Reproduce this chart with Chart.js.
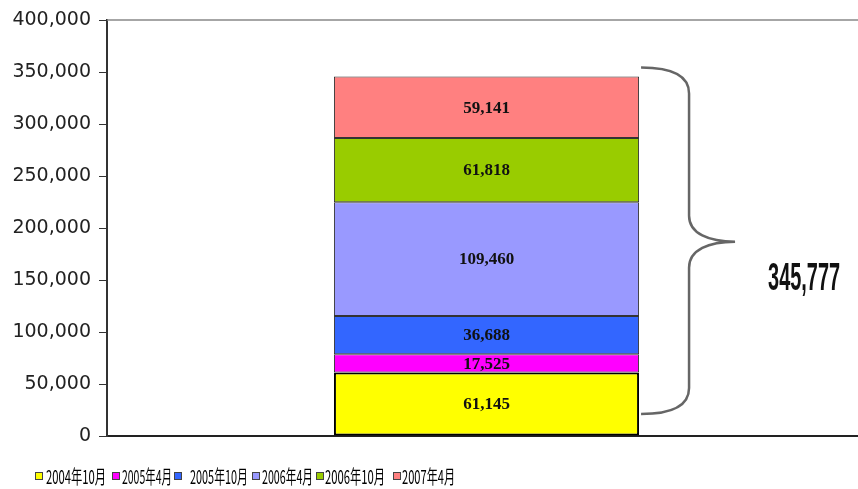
<!DOCTYPE html>
<html>
<head>
<meta charset="utf-8">
<script src="https://cdn.jsdelivr.net/npm/chart.js@4"></script>
<style>
  html, body { margin: 0; padding: 0; background: #fff; overflow: hidden; }
  #wrap { width: 866px; height: 489px; }
</style>
</head>
<body>
<div id="wrap"><canvas id="chart"></canvas></div>
<script>
// values
const categories = [''];
const seriesNames = ['2004年10月', '2005年4月', '2005年10月', '2006年4月', '2006年10月', '2007年4月'];
const seriesValues = [61145, 17525, 36688, 109460, 61818, 59141];
const seriesColors = ['#FFFF00', '#FF00FF', '#3366FF', '#9999FF', '#99CC00', '#FF8080'];
const yTicks = [0, 50000, 100000, 150000, 200000, 250000, 300000, 350000, 400000];

const fmt = v => v.toLocaleString('en-US');
const total = seriesValues.reduce((a, b) => a + b, 0);

const datasets = seriesNames.map((name, i) => ({
    label: name,
    data: [seriesValues[i]],
    backgroundColor: seriesColors[i],
    borderColor: i === 0 ? '#000' : '#333',
    borderWidth: i === 0 ? 2 : 1,
    borderSkipped: false,
    barPercentage: 0.402,
    categoryPercentage: 1
}));

// labels in segments, top frame line, brace + total, legend
const extras = {
    id: 'extras',
    afterDatasetsDraw(chart) {
        const ctx = chart.ctx;
        const area = chart.chartArea;
        const y = chart.scales.y;

        // top frame line
        ctx.save();
        ctx.strokeStyle = '#888';
        ctx.lineWidth = 1.5;
        ctx.beginPath();
        ctx.moveTo(area.left, area.top);
        ctx.lineTo(chart.width, area.top);
        ctx.stroke();
        ctx.restore();

        // value labels
        ctx.save();
        ctx.font = 'bold 17px "Liberation Serif", "Times New Roman", serif';
        ctx.fillStyle = '#111';
        ctx.textAlign = 'center';
        ctx.textBaseline = 'middle';
        chart.data.datasets.forEach((ds, i) => {
            const el = chart.getDatasetMeta(i).data[0];
            ctx.fillText(fmt(ds.data[0]), el.x, (el.y + el.base) / 2 + 1);
        });
        ctx.restore();

        // brace
        const bar = chart.getDatasetMeta(0).data[0];
        const x0 = bar.x + bar.width / 2 + 2;
        const top = y.getPixelForValue(total) - 9;
        const bot = y.getPixelForValue(0) - 22;
        const mid = (top + bot) / 2 + 1;
        const xs = x0 + 48, xt = x0 + 94;
        ctx.save();
        ctx.strokeStyle = '#666';
        ctx.lineWidth = 2.5;
        ctx.beginPath();
        ctx.moveTo(x0, top);
        ctx.bezierCurveTo(x0 + 30, top, xs, top + 8, xs, top + 26);
        ctx.lineTo(xs, mid - 26);
        ctx.bezierCurveTo(xs, mid - 8, xs + 20, mid, xt, mid);
        ctx.bezierCurveTo(xs + 20, mid, xs, mid + 8, xs, mid + 26);
        ctx.lineTo(xs, bot - 26);
        ctx.bezierCurveTo(xs, bot - 8, x0 + 30, bot, x0, bot);
        ctx.stroke();
        ctx.restore();

        // total
        ctx.save();
        ctx.font = 'bold 38px "Liberation Sans", Arial, sans-serif';
        ctx.fillStyle = '#111';
        ctx.textAlign = 'center';
        ctx.textBaseline = 'alphabetic';
        ctx.fillText(fmt(total), xt + 69, mid + 48, 72);
        ctx.restore();

        // legend
        const boxX = [35, 112, 174, 252, 316, 393];
        const textX = [46, 122, 190, 262, 325, 402];
        const textW = [60, 50, 58, 51, 60, 53];
        ctx.save();
        ctx.font = '19px "Noto Sans CJK SC", sans-serif';
        ctx.textBaseline = 'middle';
        ctx.textAlign = 'left';
        chart.data.datasets.forEach((ds, i) => {
            ctx.fillStyle = ds.backgroundColor;
            ctx.fillRect(boxX[i], 472, 7, 7);
            ctx.strokeStyle = '#444';
            ctx.lineWidth = 1;
            ctx.strokeRect(boxX[i] + 0.5, 472.5, 7, 7);
            ctx.fillStyle = '#000';
            ctx.fillText(ds.label, textX[i], 477, textW[i]);
        });
        ctx.restore();
    }
};

new Chart(document.getElementById('chart'), {
    type: 'bar',
    data: { labels: categories, datasets: datasets },
    options: {
        responsive: true,
        maintainAspectRatio: false,
        animation: false,
        layout: { padding: { top: 20, right: 0, bottom: 53, left: 0 } },
        plugins: {
            legend: { display: false },
            tooltip: { enabled: false }
        },
        scales: {
            x: {
                stacked: true,
                grid: { display: false },
                ticks: { display: false },
                border: { display: true, color: '#222', width: 2 },
                afterFit(scale) { scale.height = 0; }
            },
            y: {
                stacked: true,
                min: 0,
                max: 400000,
                afterBuildTicks(scale) { scale.ticks = yTicks.map(v => ({ value: v })); },
                afterFit(scale) { scale.width = 107; },
                grid: { drawOnChartArea: false, drawTicks: true, tickLength: 8, color: '#333', lineWidth: 1 },
                border: { display: true, color: '#333', width: 2 },
                ticks: {
                    padding: 8,
                    color: '#222',
                    font: { family: '"DejaVu Sans", Verdana, sans-serif', size: 19 },
                    callback: v => fmt(v)
                }
            }
        }
    },
    plugins: [extras]
});
</script>
</body>
</html>
